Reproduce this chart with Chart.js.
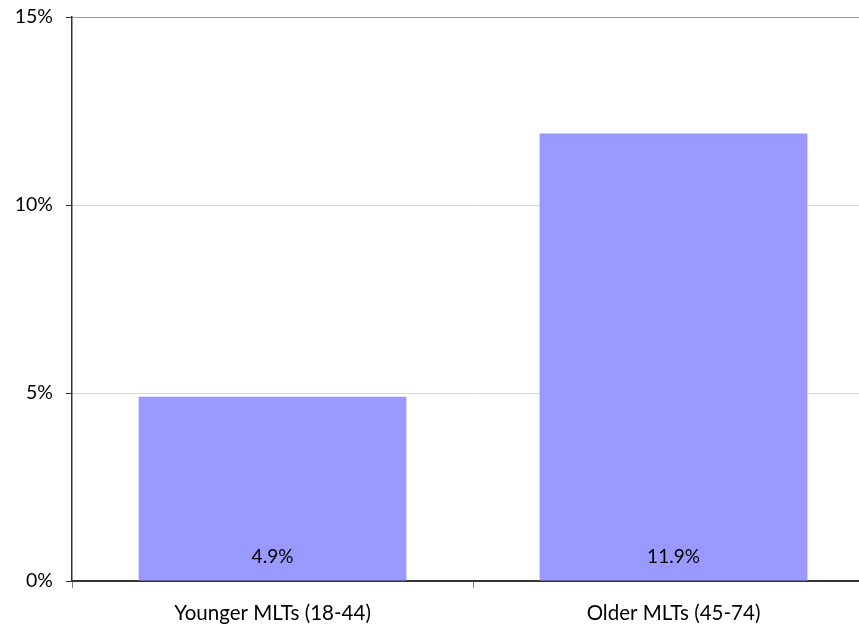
<!DOCTYPE html>
<html>
<head>
<meta charset="utf-8">
<script src="https://cdn.jsdelivr.net/npm/chart.js@4/dist/chart.umd.min.js"></script>
<style>
html,body{margin:0;padding:0;background:#fff;overflow:hidden;}
#wrap{width:875px;height:627px;}
</style>
</head>
<body>
<div id="wrap"><canvas id="c" width="875" height="627"></canvas></div>
<script>
const categories = ["Younger MLTs (18-44)", "Older MLTs (45-74)"];
const values = [4.9, 11.9];
const valueLabels = ["4.9%", "11.9%"];
const yTicks = [0, 5, 10, 15];

const FONT = "Lato, 'Open Sans', sans-serif";

const barLabels = {
  id: 'barLabels',
  afterDatasetsDraw(chart) {
    const ctx = chart.ctx;
    const y0 = chart.scales.y.getPixelForValue(0);
    ctx.save();
    ctx.font = "19px " + FONT;
    ctx.fillStyle = "#000";
    ctx.textAlign = "center";
    ctx.textBaseline = "middle";
    chart.getDatasetMeta(0).data.forEach((el, i) => {
      ctx.fillText(valueLabels[i], el.x, y0 - 24);
    });
    ctx.restore();
  }
};

new Chart(document.getElementById('c'), {
  type: 'bar',
  data: {
    labels: categories,
    datasets: [{
      data: values,
      backgroundColor: '#9999ff',
      borderWidth: 0,
      barPercentage: 0.668,
      categoryPercentage: 1.0
    }]
  },
  options: {
    responsive: false,
    animation: false,
    devicePixelRatio: 1,
    layout: { padding: { top: 17, right: 1, left: 0, bottom: 0 } },
    plugins: { legend: { display: false }, tooltip: { enabled: false } },
    scales: {
      x: {
        grid: { drawOnChartArea: false, drawTicks: true, tickLength: 7, color: '#808080', offset: true },
        border: { color: '#333', width: 1.5 },
        ticks: { font: { family: FONT, size: 20.5 }, color: '#000', padding: 13, maxRotation: 0 },
        afterFit(s) { s.height = 46; s.paddingLeft = 0; s.paddingRight = 0; }
      },
      y: {
        min: 0, max: 15,
        afterBuildTicks(s) { s.ticks = yTicks.map(v => ({ value: v })); },
        grid: {
          color: (c) => c.tick && c.tick.value === 15 ? '#999' : (c.tick && c.tick.value === 0 ? '#333' : '#d9d9d9'),
          tickColor: '#333',
          tickLength: 6,
          lineWidth: 1
        },
        border: { color: '#333', width: 1.5 },
        ticks: { font: { family: FONT, size: 19.5 }, color: '#000', padding: 13, callback: v => v + '%' },
        afterFit(s) { s.width = 72; s.paddingTop = 0; s.paddingBottom = 0; }
      }
    }
  },
  plugins: [barLabels]
});
</script>
</body>
</html>
